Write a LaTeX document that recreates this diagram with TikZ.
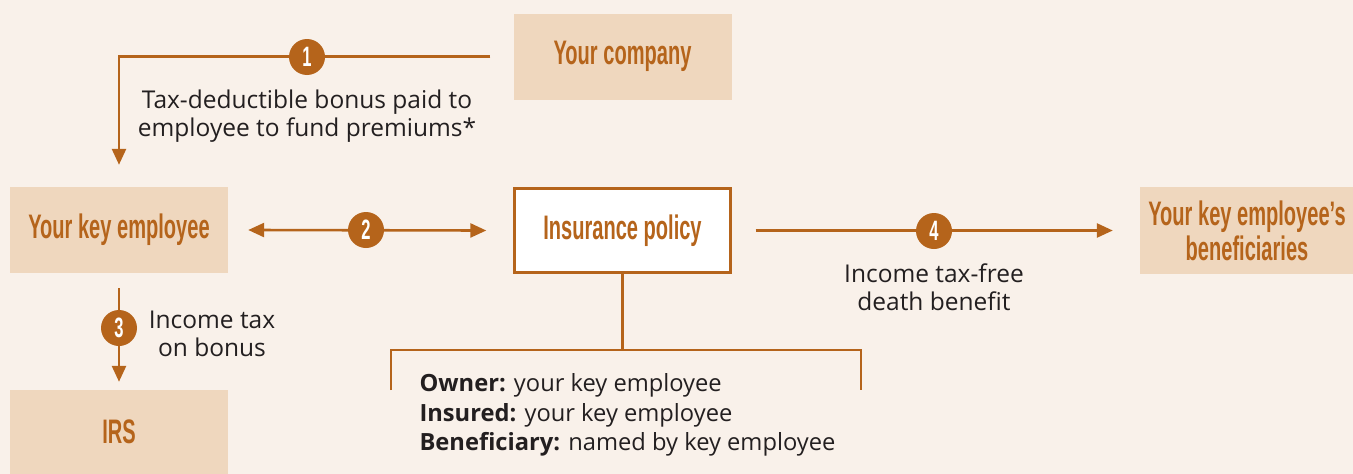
\documentclass[tikz,border=0pt]{standalone}
\usepackage{fontspec}
\setmainfont{Open Sans}
\newfontfamily\condfont[FakeStretch=0.59]{Liberation Sans}
\usetikzlibrary{arrows.meta}
\definecolor{bgc}{HTML}{F9F1EA}
\definecolor{boxc}{HTML}{EFD7BE}
\definecolor{orc}{HTML}{B5641B}
\definecolor{txc}{HTML}{231F20}
\begin{document}
\begin{tikzpicture}[x=1pt,y=-1pt,
  lbl/.style={font=\condfont\bfseries\fontsize{34}{36}\selectfont, text=orc, align=center},
  boxnode/.style={fill=boxc, minimum width=218pt, minimum height=86pt, inner sep=0pt},
  numc/.style={circle, fill=orc, minimum size=36pt, inner sep=0pt, text=white, font=\condfont\bfseries\fontsize{28}{28}\selectfont},
  flow/.style={draw=orc, line width=2.6pt, -{Triangle[length=16pt,width=14pt]}},
  both/.style={draw=orc, line width=2.6pt, {Triangle[length=16pt,width=14pt]}-{Triangle[length=16pt,width=14pt]}},
  brk/.style={draw=orc, line width=2.2pt},
  note/.style={font=\fontsize{24.5}{28}\selectfont, text=txc, align=center}
]
\fill[bgc] (0,0) rectangle (1353,474);
\useasboundingbox (0,0) rectangle (1353,474);

% boxes
\node[boxnode, lbl] (comp) at (622.5,56.5) {Your company};
\node[boxnode, lbl] (emp) at (119,230) {Your key employee};
\node[boxnode, lbl, fill=white, draw=orc, line width=2.4pt, minimum width=216pt, minimum height=84pt] (pol) at (622.5,230.5) {Insurance policy};
\node[boxnode, lbl, minimum width=214pt, minimum height=87pt, font=\condfont\bfseries\fontsize{34}{35}\selectfont] (ben) at (1247,230.5) {Your key employee’s\\beneficiaries};
\node[boxnode, lbl, minimum height=84pt] (irs) at (119,432) {IRS};

% connector 1
\draw[flow] ([xshift=-23pt]comp.west) -| ([yshift=22pt]emp.north);
\node[numc] (n1) at (307,57) {1};
\node[note] (t1) at (307,116) {Tax-deductible bonus paid to\\employee to fund premiums*};

% connector 2
\draw[both] ([xshift=20pt]emp.east) -- ([xshift=-27pt]pol.west);
\node[numc] (n2) at (366,230) {2};

% connector 4
\draw[flow] ([xshift=24pt]pol.east) -- ([xshift=-27pt]ben.west);
\node[numc] (n4) at (934,231) {4};
\node[note] (t4) at (934,287) {Income tax-free\\death benefit};

% connector 3
\draw[flow] ([yshift=-15pt]emp.south) -- ([yshift=8pt]irs.north);
\node[numc] (n3) at (119,328) {3};
\node[note] (t3) at (212,334) {Income tax\\on bonus};

% bracket
\coordinate (bj) at (622.5,350);
\coordinate (bl) at (391,390);
\coordinate (br) at (861,390);
\draw[brk] (pol.south) -- (bj);
\draw[brk] (bl) |- (bj) -| (br);
\node[note, align=left, anchor=north west, font=\fontsize{23.7}{29.5}\selectfont] (t5) at (416,370) {\textbf{Owner:} your key employee\\\textbf{Insured:} your key employee\\\textbf{Beneficiary:} named by key employee};
\end{tikzpicture}
\end{document}
